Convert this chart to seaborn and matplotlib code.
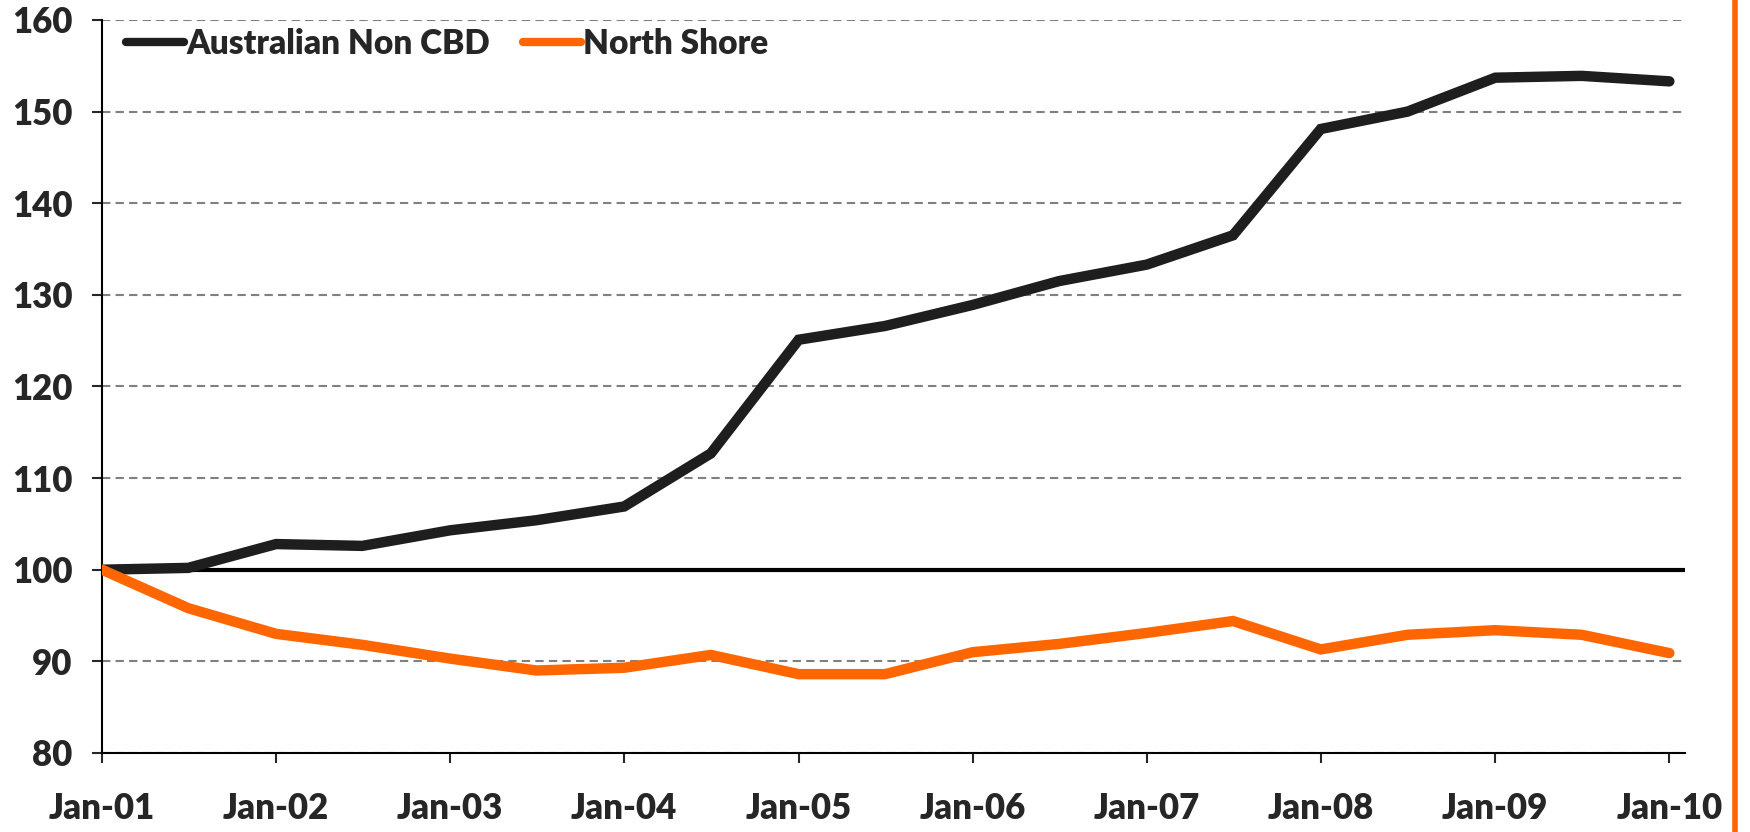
import pandas as pd
import numpy as np
import matplotlib
matplotlib.use("Agg")
import matplotlib.pyplot as plt
import matplotlib.dates as mdates
from matplotlib.lines import Line2D
import seaborn as sns

# half-yearly index values (Jan-01 = 100)
dates = ["2001-01", "2001-07", "2002-01", "2002-07", "2003-01", "2003-07",
         "2004-01", "2004-07", "2005-01", "2005-07", "2006-01", "2006-07",
         "2007-01", "2007-07", "2008-01", "2008-07", "2009-01", "2009-07",
         "2010-01"]
non_cbd = [100.0, 100.2, 102.8, 102.6, 104.3, 105.4, 106.9, 112.7, 125.1, 126.6,
           128.9, 131.5, 133.3, 136.5, 148.1, 150.0, 153.7, 153.9, 153.3]
north_shore = [100.0, 95.8, 93.0, 91.8, 90.3, 89.0, 89.3, 90.7, 88.6, 88.6,
               91.0, 91.9, 93.1, 94.4, 91.3, 92.9, 93.4, 92.9, 90.9]
series_names = ["Australian Non CBD", "North Shore"]
series_colors = ["#1e1e1e", "#ff6600"]
y_ticks = [80, 90, 100, 110, 120, 130, 140, 150, 160]
base_level = 100

df = pd.DataFrame({
    "Date": pd.to_datetime(dates * 2),
    "Index": non_cbd + north_shore,
    "Series": [series_names[0]] * len(dates) + [series_names[1]] * len(dates),
})

sns.set_style("white")
plt.rcParams["font.family"] = ["Lato", "DejaVu Sans"]
plt.rcParams["font.weight"] = "heavy"

fig = plt.figure(figsize=(17.5, 8.32), dpi=100)
ax = fig.add_axes([0.0583, 0.095, 0.9046, 0.881])

ax.axhline(base_level, color="black", linewidth=3, zorder=2)
sns.lineplot(data=df, x="Date", y="Index", hue="Series",
             palette=dict(zip(series_names, series_colors)),
             linewidth=7.5, ax=ax, zorder=3, solid_capstyle="round",
             solid_joinstyle="miter")

ax.set_ylim(y_ticks[0], y_ticks[-1])
ax.set_yticks(y_ticks)
ax.set_xlim(pd.Timestamp("2001-01-01"), pd.Timestamp("2010-02-03"))
ax.xaxis.set_major_locator(mdates.YearLocator())
ax.xaxis.set_major_formatter(mdates.DateFormatter("%b-%y"))
ax.set_xlabel("")
ax.set_ylabel("")

ax.yaxis.grid(True, linestyle=(0, (4, 2.5)), color="#808080", linewidth=1.5)
ax.set_axisbelow(True)
for s in ["top", "right"]:
    ax.spines[s].set_visible(False)
for s in ["left", "bottom"]:
    ax.spines[s].set_color("black")
    ax.spines[s].set_linewidth(1.5)

ax.tick_params(axis="y", direction="out", length=7, width=1.5, pad=14,
               labelsize=25, left=True)
ax.tick_params(axis="x", direction="out", length=7, width=1.5, pad=21,
               labelsize=25, bottom=True)
for lab in ax.get_xticklabels() + ax.get_yticklabels():
    lab.set_fontweight("heavy")

leg = ax.legend(loc="upper left", bbox_to_anchor=(-0.004, 1.03), ncol=2,
                frameon=False, fontsize=24, handlelength=1.75,
                handletextpad=0.06, columnspacing=1.0)
for line in leg.get_lines():
    line.set_linewidth(6)
for t in leg.get_texts():
    t.set_fontweight("heavy")

# orange frame edge on the right of the slide
fig.add_artist(Line2D([0.9914, 0.9914], [0, 1], transform=fig.transFigure,
                      color="#ff6600", linewidth=4))

fig.savefig("out.png", dpi=100)
